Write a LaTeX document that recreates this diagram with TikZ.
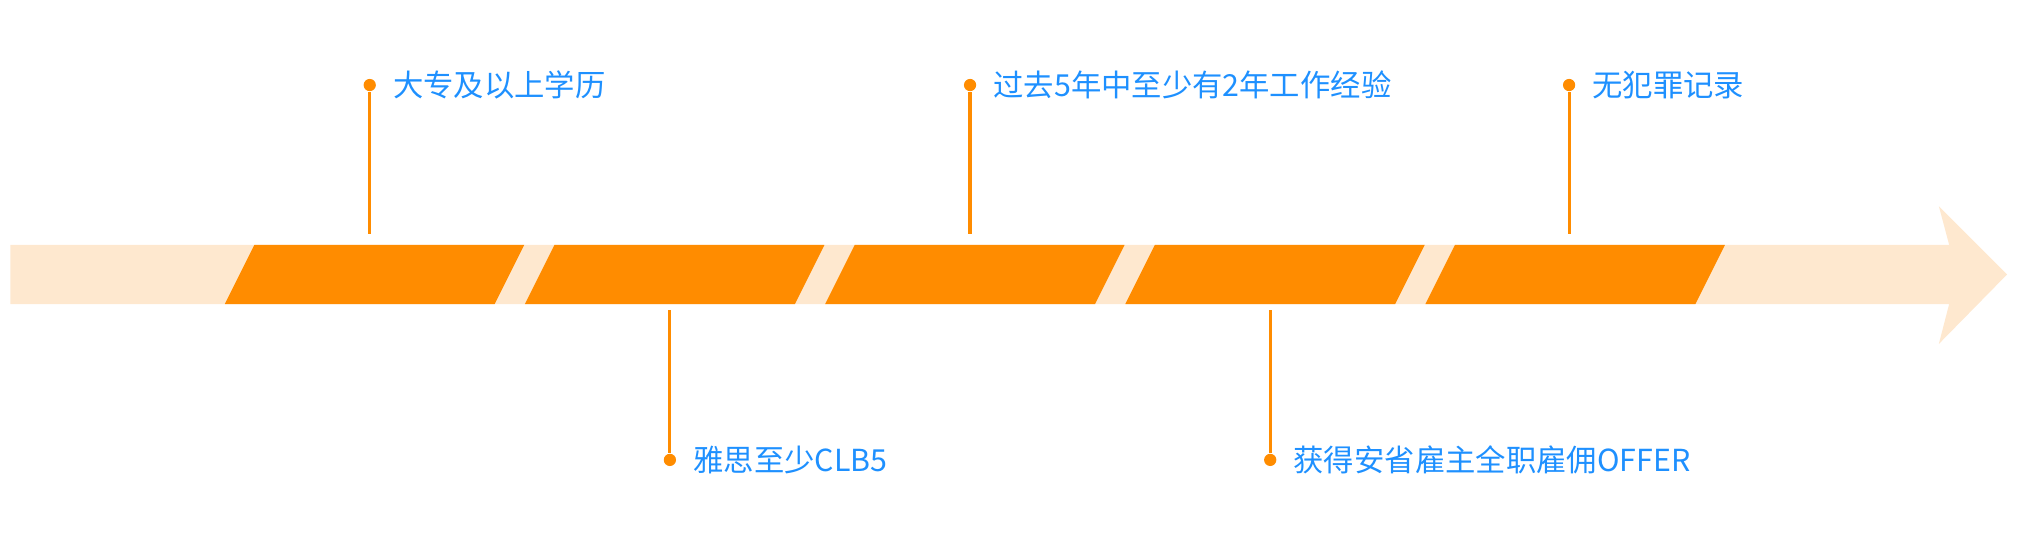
\documentclass[tikz,border=0pt]{standalone}
\usepackage{fontspec}
\newfontfamily\cjk{Noto Sans CJK SC}
\usepackage{tikz}
\usetikzlibrary{positioning}
\definecolor{bandorange}{HTML}{FF8C00}
\definecolor{bandlight}{HTML}{FEE8CF}
\definecolor{labelblue}{HTML}{1E90FF}
\tikzset{
  dot/.style={circle,fill=bandorange,inner sep=0pt,minimum size=0.095cm},
  lbl/.style={font=\cjk\fontsize{6.7}{8}\selectfont,text=labelblue,inner sep=0pt,anchor=west},
  stem/.style={draw=bandorange,line width=0.7pt}
}
\begin{document}
\begin{tikzpicture}[x=0.01cm,y=-0.01cm]
    \useasboundingbox (0,0) rectangle (1568,427);
    \fill[bandlight] (8,190) -- (1513,190) -- (1505,160) -- (1558,213) -- (1505,267) -- (1513,236) -- (8,236) -- cycle;
    \foreach \i in {0,...,4}
      \fill[bandorange] (197.5+233*\i,190) -- (407+233*\i,190) -- (384+233*\i,236) -- (174.5+233*\i,236) -- cycle;
    \node[dot] at (287,66) (d1) {};
    \node[dot] at (520,357) (d2) {};
    \node[dot] at (753,66) (d3) {};
    \node[dot] at (986,357) (d4) {};
    \node[dot] at (1218,66) (d5) {};
    \coordinate (e1) at (287,182);
    \coordinate (e2) at (520,241);
    \coordinate (e3) at (753,182);
    \coordinate (e4) at (986,241);
    \coordinate (e5) at (1218,182);
    \foreach \k in {1,...,5}
      \draw[stem] (d\k) -- (e\k);
    \node[lbl,right=0.12cm of d1] (l1) {大专及以上学历};
    \node[lbl,right=0.12cm of d2] (l2) {雅思至少CLB5};
    \node[lbl,right=0.12cm of d3] (l3) {过去5年中至少有2年工作经验};
    \node[lbl,right=0.12cm of d4] (l4) {获得安省雇主全职雇佣OFFER};
    \node[lbl,right=0.12cm of d5] (l5) {无犯罪记录};
\end{tikzpicture}
\end{document}
